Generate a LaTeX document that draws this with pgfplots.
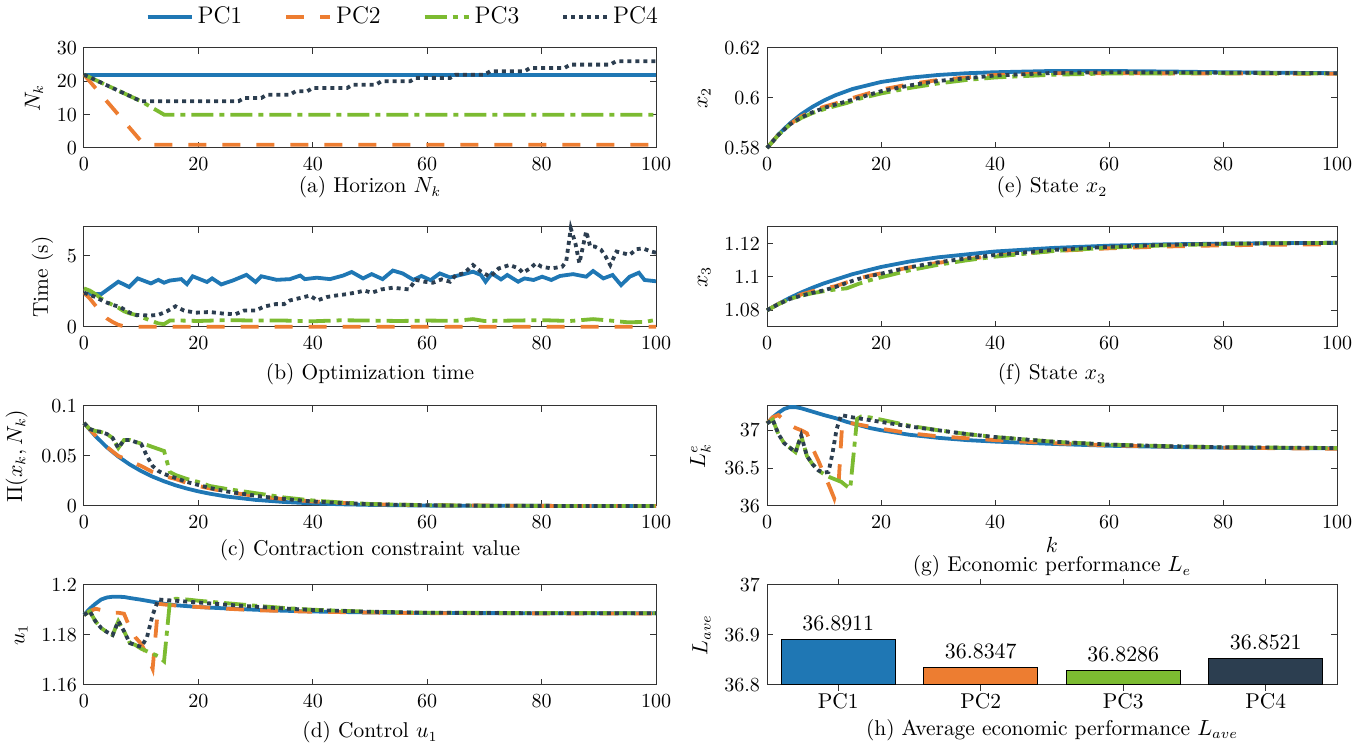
\documentclass[border=0pt]{standalone}
\usepackage{pgfplots}
\pgfplotsset{compat=1.18}
\definecolor{c1}{HTML}{1F77B4}
\definecolor{c2}{HTML}{ED7D31}
\definecolor{c3}{HTML}{7CBB31}
\definecolor{c4}{HTML}{2C3E50}
\pgfplotsset{
 pc1/.style={color=c1, line width=1.9pt, solid, no markers},
 pc2/.style={color=c2, line width=1.9pt, dash pattern=on 9pt off 8pt, no markers},
 pc3/.style={color=c3, line width=1.9pt, dash pattern=on 11pt off 3pt on 2.5pt off 3pt, no markers},
 pc4/.style={color=c4, line width=1.9pt, dash pattern=on 2pt off 2pt, no markers},
 myax/.style={scale only axis, width=286pt, height=50pt, xmin=0, xmax=100,
   xtick={0,20,...,100}, tick align=inside, tick pos=both, major tick length=3pt,
   axis line style={black!80, line width=0.5pt}, tick style={black!80, line width=0.5pt},
   tick label style={font=\fontsize{10}{12}\selectfont},
   label style={font=\fontsize{10.7}{13}\selectfont},
   xticklabel style={yshift=-1.5pt},
   clip=false, scaled ticks=false, anchor=south west},
 rax/.style={myax, width=285pt},
}
\begin{document}
\begin{tikzpicture}
\path[use as bounding box] (0,0) rectangle (683pt,374pt);
% (a)
\begin{axis}[myax, at={(42pt,300pt)}, ymin=0, ymax=30, ytick={0,10,20,30},
  ylabel={$N_k$}, xlabel={(a) Horizon $N_k$}, xlabel style={yshift=4pt},
  legend columns=4,
  legend style={at={(0.559,1.31)}, anchor=center, draw=none, fill=none,
    font=\fontsize{12}{14}\selectfont, /tikz/every even column/.append style={column sep=19pt}},
  legend image code/.code={\draw[#1] (0pt,0pt) -- (22pt,0pt);}]
\addplot[pc1] coordinates {(0,22) (100,22)};
\addlegendentry{PC1}
\addplot[pc2] coordinates {(0,22) (10,2) (11,1) (100,1)};
\addlegendentry{PC2}
\addplot[pc3] coordinates {(0,22) (10,14) (14,10) (100,10)};
\addlegendentry{PC3}
\addplot[pc4] coordinates {(0,22) (10,14) (27,14) (28,15) (31,15) (32,16) (36,16) (37,17) (39,17) (40,18) (46,18) (47,19) (51,19) (52,20) (57,20) (58,21) (64,21) (65,22) (70,22) (71,23) (77,23) (78,24) (84,24) (85,25) (92,25) (93,26) (100,26)};
\addlegendentry{PC4}
\end{axis}
% (b)
\begin{axis}[myax, at={(42pt,210.5pt)}, ymin=0, ymax=7, ytick={0,5},
  ylabel={Time (s)}, xlabel={(b) Optimization time}]
\addplot[pc1] coordinates {(0,2.3) (3,2.3) (6,3.17) (7.9,2.8) (9.4,3.4) (11.7,3.05) (13,3.3) (14,3.1) (15,3.25) (17,3.35) (18,3.0) (19,3.55) (21.5,3.15) (22.4,3.4) (24,2.98) (26,3.25) (28.4,3.65) (30,3.15) (31,3.55) (33.7,3.3) (36,3.35) (37.8,3.6) (38.6,3.35) (40.7,3.45) (43,3.35) (45.3,3.6) (46.8,3.85) (48.8,3.4) (50.3,3.7) (52.2,3.35) (54,3.95) (55.7,3.75) (57.6,3.3) (59,3.57) (60.6,3.28) (62.2,3.75) (64,3.47) (66.4,3.7) (68,3.87) (69.4,3.64) (70.2,3.17) (71.3,3.75) (72.9,3.33) (74,3.64) (75.9,3.17) (77,3.4) (78.6,3.29) (80.1,3.52) (81.7,3.29) (83.2,3.57) (85.5,3.7) (87.8,3.52) (89,3.92) (90.8,3.4) (92.4,3.64) (93.9,2.93) (95.4,3.52) (97,3.8) (98,3.29) (100,3.2)};
\addplot[pc2] coordinates {(0,2.4) (1,2.0) (2,1.5) (3,1.0) (4,0.6) (5,0.35) (6,0.15) (7,0.05) (8,0.02) (100,0.02)};
\addplot[pc3] coordinates {(0,2.7) (1,2.55) (2,2.3) (3,2.0) (4,1.75) (5,1.55) (6,1.35) (7,1.1) (8,0.95) (9,0.85) (10,0.7) (11,0.55) (12,0.4) (13,0.25) (14,0.2) (15,0.45) (17,0.45) (20,0.42) (25,0.48) (30,0.45) (35,0.45) (40,0.4) (45,0.47) (50,0.45) (55,0.42) (60,0.45) (65,0.43) (68,0.55) (70,0.42) (75,0.45) (80,0.48) (85,0.42) (89,0.55) (92,0.45) (95,0.33) (98,0.35) (100,0.5)};
\addplot[pc4] coordinates {(0,2.4) (2,2.1) (3.4,1.8) (5,1.55) (6.3,1.4) (8,1.0) (9,0.85) (11.5,0.8) (13,0.85) (14.5,1.1) (16,1.45) (17.5,1.15) (19.5,1.0) (22,1.05) (24.5,0.93) (26.5,0.9) (28,1.15) (30,1.15) (31.5,1.43) (33.5,1.6) (35,1.6) (36,1.86) (38,2.05) (39.5,2.2) (40.8,1.86) (42.5,2.1) (44,2.2) (46,2.3) (48,2.45) (49,2.55) (50.3,2.4) (52,2.63) (54,2.75) (56.8,2.63) (58,3.3) (59.5,3.17) (61,3.1) (62.5,3.33) (64,3.17) (65,3.64) (66.4,3.75) (68,4.34) (69.4,3.87) (71,3.52) (72.5,4.1) (74.4,4.34) (76,4.1) (76.7,3.8) (78,4.1) (79,4.46) (80,4.22) (81.7,4.1) (83.6,4.22) (84.3,4.58) (85.1,6.9) (85.9,5.87) (86.6,4.46) (87.8,6.7) (88.5,5.63) (89.3,5.63) (90.4,5.4) (91.2,4.93) (92,4.34) (93.1,5.28) (94.3,5.16) (95.4,5.05) (96.6,5.45) (97.7,5.5) (99.2,5.28) (100,5.2)};
\end{axis}
% (c)
\begin{axis}[myax, at={(42pt,121pt)}, ymin=0, ymax=0.1, ytick={0,0.05,0.1}, yticklabels={0,0.05,0.1},
  ylabel={$\Pi(x_k,N_k)$}, xlabel={(c) Contraction constraint value}, xlabel style={yshift=1.5pt}]
\addplot[pc1] coordinates {(0,0.083) (2,0.0699) (4,0.0587) (6,0.0494) (8,0.0415) (10,0.0349) (12,0.0293) (14,0.0247) (16,0.0207) (18,0.0174) (20,0.0146) (22,0.0123) (25,0.0094) (30,0.0061) (35,0.0040) (40,0.0026) (45,0.0017) (50,0.0011) (60,0.0004) (70,0.0002) (80,0.0001) (100,0.0)};
\addplot[pc2] coordinates {(0,0.083) (2,0.0705) (4,0.059) (6,0.050) (8,0.045) (10,0.040) (11,0.037) (12,0.034) (13,0.032) (14,0.030) (16,0.027) (18,0.023) (20,0.020) (25,0.014) (30,0.010) (35,0.0068) (40,0.0045) (50,0.0018) (60,0.0007) (80,0.0001) (100,0)};
\addplot[pc3] coordinates {(0,0.083) (1,0.077) (2,0.075) (3,0.074) (4,0.072) (5,0.068) (6,0.058) (7,0.066) (8,0.066) (9,0.064) (10,0.0625) (11,0.061) (12,0.059) (13,0.057) (14,0.055) (15,0.034) (16,0.031) (18,0.027) (20,0.024) (22,0.020) (25,0.017) (28,0.0145) (31,0.012) (35,0.0085) (40,0.0055) (45,0.0035) (50,0.002) (60,0.0008) (70,0.0003) (80,0.0001) (100,0)};
\addplot[pc4] coordinates {(0,0.083) (1,0.077) (2,0.075) (3,0.074) (4,0.072) (5,0.068) (6,0.058) (7,0.066) (8,0.066) (9,0.064) (10,0.062) (11,0.050) (12,0.040) (13,0.035) (14,0.032) (16,0.028) (18,0.024) (20,0.021) (22,0.018) (25,0.0145) (28,0.012) (31,0.0095) (35,0.007) (40,0.0045) (45,0.003) (50,0.0018) (60,0.0007) (70,0.0003) (80,0.0001) (100,0)};
\end{axis}
% (d)
\begin{axis}[myax, at={(42pt,31.5pt)}, ymin=1.16, ymax=1.2, ytick={1.16,1.18,1.2}, yticklabels={1.16,1.18,1.2},
  ylabel={$u_1$}, xlabel={(d) Control $u_1$}]
\addplot[pc1] coordinates {(0,1.188) (1,1.1905) (2,1.1925) (3,1.1942) (4,1.1950) (5,1.1953) (6,1.1953) (7,1.1952) (8,1.1948) (10,1.1941) (12,1.1933) (14,1.1925) (16,1.1919) (20,1.1912) (25,1.1906) (30,1.1901) (35,1.1897) (40,1.1894) (50,1.1890) (60,1.1888) (80,1.1887) (100,1.1887)};
\addplot[pc2] coordinates {(0,1.188) (1,1.1895) (2,1.1905) (3,1.19) (4,1.1893) (5,1.1888) (6,1.1889) (7,1.1885) (8,1.183) (9,1.179) (10,1.1765) (11,1.172) (12,1.1665) (13,1.1925) (14,1.1922) (16,1.1918) (20,1.1912) (25,1.1905) (30,1.1899) (40,1.1893) (50,1.189) (60,1.1887) (100,1.1886)};
\addplot[pc3] coordinates {(0,1.188) (1,1.1895) (2,1.1855) (3,1.1828) (4,1.1812) (5,1.1800) (6,1.1855) (7,1.1815) (8,1.1768) (9,1.1760) (10,1.1745) (11,1.1735) (12,1.1725) (13,1.1715) (14,1.1695) (15,1.1930) (16,1.1945) (18,1.1942) (20,1.1937) (25,1.1927) (30,1.1917) (35,1.1908) (40,1.1901) (50,1.1893) (60,1.1889) (100,1.1887)};
\addplot[pc4] coordinates {(0,1.188) (1,1.1895) (2,1.1855) (3,1.1828) (4,1.1812) (5,1.1800) (6,1.1855) (7,1.1815) (8,1.1768) (9,1.1760) (10,1.1752) (11,1.1790) (12,1.1880) (13,1.1942) (14,1.1940) (16,1.1937) (20,1.1930) (25,1.1921) (30,1.1913) (35,1.1906) (40,1.1900) (50,1.1893) (60,1.1889) (80,1.1887) (100,1.1887)};
\end{axis}
% (e)
\begin{axis}[rax, at={(383.5pt,300pt)}, ymin=0.58, ymax=0.62, ytick={0.58,0.6,0.62}, yticklabels={0.58,0.6,0.62},
  ylabel={$x_2$}, xlabel={(e) State $x_2$}, xlabel style={yshift=4pt}]
\addplot[pc1] coordinates {(0,0.58) (2,0.5854) (4,0.5898) (6,0.5935) (8,0.5965) (10,0.5990) (12,0.6011) (15,0.6036) (20,0.6064) (25,0.6081) (30,0.6092) (35,0.6099) (40,0.6103) (50,0.6108) (60,0.6108) (70,0.6106) (80,0.6103) (90,0.6101) (100,0.6099)};
\addplot[pc2] coordinates {(0,0.58) (2,0.5853) (4,0.5895) (6,0.5926) (8,0.5948) (10,0.5965) (12,0.5978) (15,0.6000) (20,0.6033) (25,0.6055) (30,0.6072) (40,0.6092) (50,0.6099) (60,0.6099) (80,0.6098) (100,0.6097)};
\addplot[pc3] coordinates {(0,0.58) (2,0.5852) (4,0.5893) (6,0.5920) (8,0.5940) (10,0.5955) (12,0.5968) (14,0.5980) (16,0.5996) (18,0.6007) (20,0.6018) (25,0.6040) (30,0.6058) (35,0.6072) (40,0.6082) (50,0.6093) (60,0.6098) (80,0.6099) (100,0.6098)};
\addplot[pc4] coordinates {(0,0.58) (2,0.5852) (4,0.5894) (6,0.5922) (8,0.5943) (10,0.5960) (12,0.5974) (15,0.5993) (20,0.6027) (25,0.6050) (30,0.6068) (40,0.6090) (50,0.6100) (60,0.6103) (80,0.6101) (100,0.6099)};
\end{axis}
% (f)
\begin{axis}[rax, at={(383.5pt,210.5pt)}, ymin=1.07, ymax=1.13, ytick={1.08,1.1,1.12}, yticklabels={1.08,1.1,1.12},
  ylabel={$x_3$}, xlabel={(f) State $x_3$}]
\addplot[pc1] coordinates {(0,1.08) (2,1.0839) (4,1.0875) (6,1.0907) (8,1.0936) (10,1.0962) (15,1.1017) (20,1.1060) (25,1.1093) (30,1.1118) (40,1.1153) (50,1.1174) (60,1.1188) (70,1.1196) (80,1.1200) (90,1.1203) (100,1.1205)};
\addplot[pc2] coordinates {(0,1.08) (2,1.0838) (4,1.0870) (6,1.0895) (8,1.0915) (10,1.0930) (12,1.0945) (14,1.0968) (16,1.0990) (18,1.1008) (20,1.1022) (25,1.1058) (30,1.1085) (40,1.1128) (50,1.1155) (60,1.1172) (70,1.1183) (80,1.1190) (90,1.1194) (100,1.1196)};
\addplot[pc3] coordinates {(0,1.08) (2,1.0837) (4,1.0868) (6,1.0888) (8,1.0903) (10,1.0915) (12,1.0925) (14,1.0932) (16,1.0958) (18,1.0980) (20,1.0998) (25,1.1040) (30,1.1073) (35,1.1100) (40,1.1122) (50,1.1155) (60,1.1176) (70,1.1190) (80,1.1198) (90,1.1203) (100,1.1205)};
\addplot[pc4] coordinates {(0,1.08) (2,1.0837) (4,1.0868) (6,1.0888) (8,1.0905) (10,1.0920) (12,1.0940) (14,1.0965) (16,1.0988) (18,1.1005) (20,1.1020) (25,1.1058) (30,1.1088) (35,1.1112) (40,1.1132) (50,1.1162) (60,1.1181) (70,1.1193) (80,1.1200) (100,1.1205)};
\end{axis}
% (g)
\begin{axis}[rax, at={(383.5pt,121pt)}, ymin=36, ymax=37.32, ytick={36,36.5,37}, yticklabels={36,36.5,37},
  ylabel={$L_k^e$}, xlabel={$k$\\[-3.5pt](g) Economic performance $L_e$}, xlabel style={align=center, yshift=2.5pt}]
\addplot[pc1] coordinates {(0,37.09) (1,37.17) (2,37.23) (3,37.28) (4,37.305) (5,37.305) (6,37.29) (8,37.245) (10,37.2) (12,37.16) (14,37.11) (16,37.07) (18,37.03) (20,37.0) (25,36.94) (30,36.9) (35,36.87) (40,36.85) (50,36.82) (60,36.795) (70,36.78) (80,36.77) (90,36.765) (100,36.76)};
\addplot[pc2] coordinates {(0,37.09) (1,37.17) (2,37.2) (3,37.13) (4,37.07) (5,37.03) (6,37.0) (7,36.96) (8,36.76) (9,36.6) (10,36.42) (11,36.25) (11.8,36.1) (12.6,36.35) (13.2,37.1) (15,37.09) (20,37.02) (25,36.96) (30,36.92) (40,36.87) (50,36.83) (60,36.8) (80,36.77) (100,36.755)};
\addplot[pc3] coordinates {(0,37.09) (1,37.14) (2,36.95) (3,36.83) (4,36.77) (5,36.71) (6,36.93) (7,36.66) (8,36.55) (9,36.47) (10,36.42) (11,36.38) (12,36.35) (13,36.32) (14,36.26) (14.6,36.23) (15.8,37.15) (16.5,37.18) (18,37.17) (20,37.14) (25,37.06) (30,37.0) (35,36.95) (40,36.91) (50,36.85) (60,36.81) (70,36.79) (80,36.775) (90,36.77) (100,36.765)};
\addplot[pc4] coordinates {(0,37.09) (1,37.14) (2,36.95) (3,36.83) (4,36.77) (5,36.71) (6,36.93) (7,36.66) (8,36.55) (9,36.47) (10,36.44) (10.8,36.45) (11.5,36.7) (12.2,37.01) (13,37.2) (15,37.17) (20,37.11) (25,37.05) (30,37.0) (35,36.95) (40,36.91) (50,36.85) (60,36.81) (70,36.79) (80,36.775) (100,36.765)};
\end{axis}
% (h)
\begin{axis}[rax, at={(383.5pt,31.5pt)}, clip=true, ymin=36.8, ymax=37, ytick={36.8,36.9,37}, yticklabels={36.8,36.9,37},
  xmin=0.5, xmax=4.5, xtick={1,2,3,4}, xticklabels={PC1,PC2,PC3,PC4},
  xticklabel style={font=\fontsize{10.7}{13}\selectfont, yshift=4pt},
  ylabel={$L_{ave}$}, xlabel={(h) Average economic performance $L_{ave}$}, xlabel style={yshift=1.5pt},
  ybar, bar width=0.8, bar shift=0pt,
  nodes near coords, nodes near coords style={font=\fontsize{10.7}{13}\selectfont, black, yshift=1pt,
   /pgf/number format/.cd, fixed, precision=4, fixed zerofill}]
\addplot[fill=c1, draw=black, line width=0.5pt] coordinates {(1,36.8911)};
\addplot[fill=c2, draw=black, line width=0.5pt] coordinates {(2,36.8347)};
\addplot[fill=c3, draw=black, line width=0.5pt] coordinates {(3,36.8286)};
\addplot[fill=c4, draw=black, line width=0.5pt] coordinates {(4,36.8521)};
\end{axis}
\end{tikzpicture}
\end{document}
